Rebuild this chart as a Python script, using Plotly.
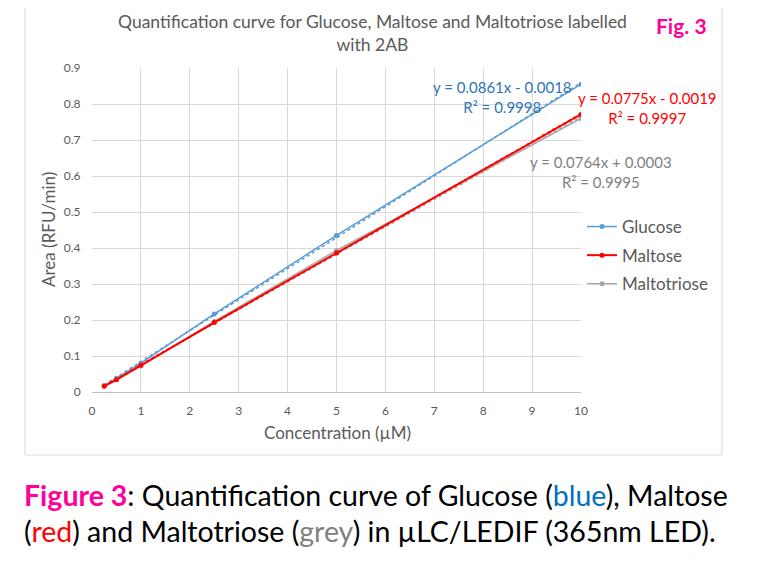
import plotly.graph_objects as go

conc = [0.25, 0.5, 1, 2.5, 5, 10]
glucose = [0.018, 0.038, 0.080, 0.217, 0.435, 0.855]
maltose = [0.016, 0.034, 0.074, 0.193, 0.386, 0.771]
maltotriose = [0.018, 0.035, 0.072, 0.196, 0.393, 0.760]

names = ['Glucose', 'Maltose', 'Maltotriose']
slopes = [0.0861, 0.0775, 0.0764]
intercepts = [-0.0018, -0.0019, 0.0003]
r2 = [0.9998, 0.9997, 0.9995]

line_cols = ['#5B9BD5', '#FF0000', '#A5A5A5']
text_cols = ['#2E75B6', '#FF0000', '#7F7F7F']
grey = '#595959'
font = 'Lato'

# the page puts the figure 8px in from the corner
OFF = 8
FW, FH = 768 - OFF, 570 - OFF

# plot area in page pixels
L, R, T, B = 92, 581, 68, 392
W, H = R - L, B - T


def px(x):
    return (x - L) / W


def py(y):
    return (B - y) / H


fig = go.Figure()

series = [glucose, maltose, maltotriose]
# draw grey before red so red sits on top
for i in [0, 2, 1]:
    x0, x1 = conc[0], conc[-1]
    fig.add_trace(go.Scatter(
        x=[x0, x1],
        y=[slopes[i] * x0 + intercepts[i], slopes[i] * x1 + intercepts[i]],
        mode='lines', line=dict(color=line_cols[i], width=1.5, dash='dot'),
        legendgroup=names[i], showlegend=False, hoverinfo='skip'))
    fig.add_trace(go.Scatter(
        x=conc, y=series[i], name=names[i], mode='lines+markers',
        line=dict(color=line_cols[i], width=2 if i == 1 else 1.5),
        marker=dict(size=5, color=line_cols[i]),
        legendgroup=names[i], legendrank=i + 1))

fig.update_layout(
    width=FW, height=FH,
    margin=dict(l=L - OFF, r=FW - (R - OFF), t=T - OFF, b=FH - (B - OFF)),
    paper_bgcolor='white', plot_bgcolor='white',
    font=dict(family=font, color=grey, size=12),
    showlegend=True,
    legend=dict(x=px(582), y=py(209), xanchor='left', yanchor='top',
                font=dict(size=17, color=grey), bgcolor='rgba(0,0,0,0)',
                tracegroupgap=3.5),
    xaxis=dict(range=[0, 10], dtick=1, showgrid=True, gridcolor='#D9D9D9',
               zeroline=False, showline=False, ticks='outside', ticklen=8,
               tickcolor='rgba(0,0,0,0)', tickfont=dict(size=12, color=grey)),
    yaxis=dict(range=[0, 0.9], dtick=0.1, showgrid=True, gridcolor='#D9D9D9',
               zeroline=True, zerolinecolor='#BFBFBF', zerolinewidth=1,
               showline=False, ticks='outside', ticklen=8,
               tickcolor='rgba(0,0,0,0)', tickfont=dict(size=12, color=grey),
               tickformat='.1~f'),
)

# outer chart frame
fig.add_shape(type='rect', xref='paper', yref='paper',
              x0=px(25), x1=px(722), y0=py(455), y1=py(1),
              line=dict(color='#D9D9D9', width=1), fillcolor='rgba(0,0,0,0)')

ann = []
ann.append(dict(x=px(372), y=py(33), text='Quantification curve for Glucose, Maltose and Maltotriose labelled<br>with 2AB',
                font=dict(size=17.5, color=grey), showarrow=False, xanchor='center', yanchor='middle'))
ann.append(dict(x=px(681), y=py(25), text='<b>Fig. 3</b>', font=dict(size=21, color='#FF0099'),
                showarrow=False, xanchor='center', yanchor='middle'))
ann.append(dict(x=px(48), y=py(230), text='Area (RFU/min)', textangle=-90,
                font=dict(size=17, color=grey), showarrow=False, xanchor='center', yanchor='middle'))
ann.append(dict(x=px(337), y=py(433), text='Concentration (µM)',
                font=dict(size=17, color=grey), showarrow=False, xanchor='center', yanchor='middle'))

eq_pos = [(502, 97), (647, 108), (601, 172)]
for i in range(3):
    sign = '-' if intercepts[i] < 0 else '+'
    txt = 'y = %.4fx %s %.4f<br>R² = %.4f' % (slopes[i], sign, abs(intercepts[i]), r2[i])
    ann.append(dict(x=px(eq_pos[i][0]), y=py(eq_pos[i][1]), text=txt, align='center',
                    font=dict(size=15, color=text_cols[i]), showarrow=False,
                    xanchor='center', yanchor='middle'))

cap1 = ('<span style="color:#FF0099"><b>Figure 3</b></span>: Quantification curve of Glucose '
        '(<span style="color:#0070C0">blue</span>), Maltose')
cap2 = ('(<span style="color:#FF0000">red</span>) and Maltotriose '
        '(<span style="color:#808080">grey</span>) in µLC/LEDIF (365nm LED).')
ann.append(dict(x=px(22), y=py(495), text=cap1, font=dict(size=28.5, color='black'),
                showarrow=False, xanchor='left', yanchor='middle'))
ann.append(dict(x=px(22), y=py(531), text=cap2, font=dict(size=28.5, color='black'),
                showarrow=False, xanchor='left', yanchor='middle'))

for a in ann:
    a['xref'] = 'paper'
    a['yref'] = 'paper'
fig.update_layout(annotations=ann)

fig.write_html('out.html')
